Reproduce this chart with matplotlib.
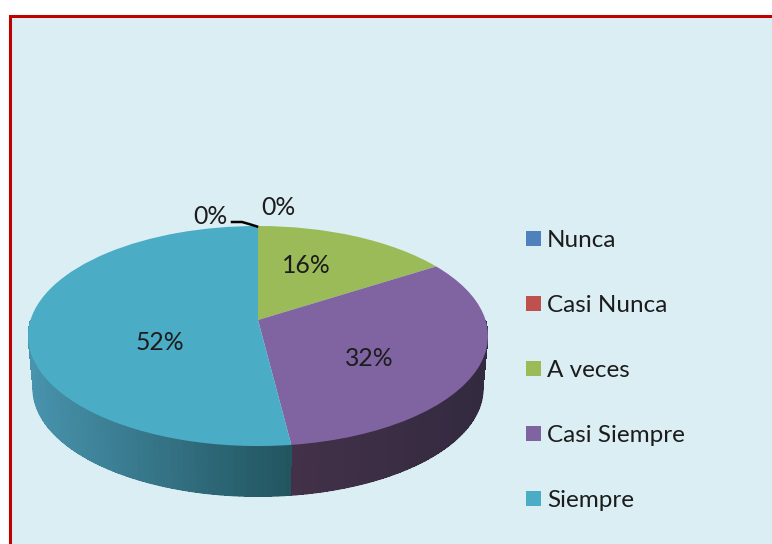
import numpy as np
import matplotlib
matplotlib.use('Agg')
import matplotlib.pyplot as plt
from matplotlib.patches import Rectangle
from matplotlib.collections import PolyCollection, LineCollection
from matplotlib.colors import to_rgb
from matplotlib.transforms import Transform

plt.rcParams['font.family'] = ['Lato', 'DejaVu Sans']

categories = ['Nunca', 'Casi Nunca', 'A veces', 'Casi Siempre', 'Siempre']
values = [0, 0, 16, 32, 52]
colors = ['#4F81BD', '#C0504D', '#9BBB59', '#8064A2', '#4BACC6']

# wall shading per slice (start of the rim, end of the rim), clockwise from the top
wall_start = ['#2E4A6E', '#6E2E2C', '#5A6E34', '#332A40', '#225560']
wall_end = ['#2E4A6E', '#6E2E2C', '#5A6E34', '#433149', '#4893AD']

# label positions in picture pixels
label_xy = [(210, 216.5), (278, 207.5), (306, 265.5), (369, 358), (160, 342.5)]

TEXT = '#1c1c1c'


def project(u, v, cx=258.0, cy=320.0, a=227.5, b=107.7, k=0.1455):
    """ unit circle -> picture pixels, perspective so the apex sits above the ellipse centre """
    d = 1 + k * v
    return cx + a * u / d, cy - b * v / d


class PieProjection(Transform):
    input_dims = 2
    output_dims = 2
    is_separable = False

    def transform_non_affine(self, xy):
        xy = np.asarray(xy, dtype=float)
        x, y = project(xy[:, 0], xy[:, 1])
        return np.column_stack([x, y])


fig = plt.figure(figsize=(7.72, 5.44), dpi=100)
ax = fig.add_axes([0, 0, 1, 1])

wedges, _ = ax.pie(values, colors=colors, startangle=90, counterclock=False,
                   wedgeprops={'linewidth': 0, 'zorder': 3})
for w in wedges:
    w.set_transform(PieProjection() + ax.transData)

ax.set_xlim(0, 772)
ax.set_ylim(544, 0)
ax.axis('off')

""" Panel """
ax.add_patch(Rectangle((9.5, 15.5), 900, 700, facecolor='#DBEEF4', edgecolor='#C00000',
                       linewidth=2.2, zorder=0))

""" Side wall, only the front half of the rim shows """
edges = np.cumsum([0] + values) / sum(values) * 2 * np.pi
for i in range(len(values)):
    lo, hi = max(edges[i], np.pi / 2), min(edges[i + 1], 1.5 * np.pi)
    if hi <= lo:
        continue
    th = np.linspace(lo, hi, 70)
    xt, yt = project(np.sin(th), np.cos(th))
    xb, yb = project(np.sin(th), np.cos(th), cy=373.0, a=222.5, b=105.3)
    c0, c1 = np.array(to_rgb(wall_start[i])), np.array(to_rgb(wall_end[i]))
    quads, segs, face = [], [], []
    for j in range(len(th) - 1):
        quads.append([(xt[j], yt[j]), (xt[j + 1], yt[j + 1]), (xb[j + 1], yb[j + 1]), (xb[j], yb[j])])
        segs.append([(xb[j], yb[j]), (xb[j + 1], yb[j + 1])])
        # shade by screen x along the visible rim
        s = abs(xt[j] - xt[0]) / abs(xt - xt[0]).max()
        face.append(c0 + (c1 - c0) * s)
    # no antialias inside the wall or the quads show seams, the outer rim gets a smooth line instead
    ax.add_collection(PolyCollection(quads, facecolors=face, edgecolors='none', antialiaseds=False, zorder=2))
    ax.add_collection(LineCollection(segs, colors=face, linewidths=1.0, capstyle='round', zorder=1.5))

""" Labels """
for v, (x, y) in zip(values, label_xy):
    ax.text(x, y, f'{v}%', ha='center', va='center', fontsize=17.8, color=TEXT, zorder=5)
ax.plot([232, 242, 249, 257], [222, 222, 224, 226.5], color='black', linewidth=1.8, zorder=4)

""" Legend """
ax.legend(wedges, categories, loc='upper left', bbox_to_anchor=(526, 230),
          bbox_transform=ax.transData, frameon=False, fontsize=17.5, labelspacing=1.81,
          handlelength=0.62, handleheight=0.62, handletextpad=0.25, borderpad=0, borderaxespad=0,
          labelcolor=TEXT)

fig.savefig('out.png', dpi=100)
